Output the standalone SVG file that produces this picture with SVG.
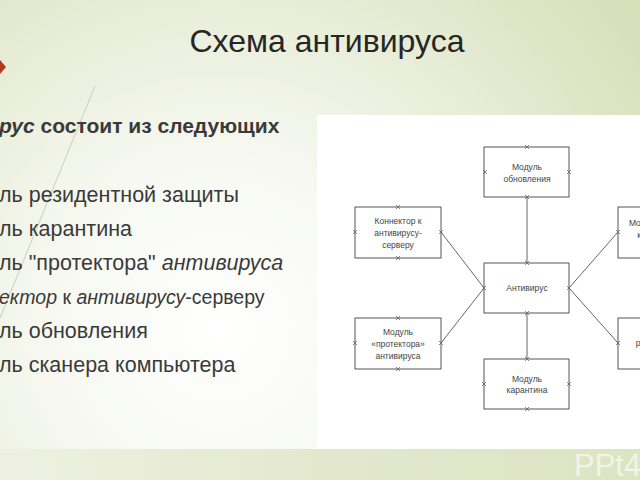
<svg xmlns="http://www.w3.org/2000/svg" width="640" height="480" viewBox="0 0 640 480">
<defs>
<radialGradient id="bg" cx="220" cy="330" r="520" gradientUnits="userSpaceOnUse">
<stop offset="0" stop-color="#ffffff"/>
<stop offset="0.35" stop-color="#f6f8f0"/>
<stop offset="1" stop-color="#d6dfb8"/>
</radialGradient>
<linearGradient id="band" x1="0" y1="0" x2="1" y2="0">
<stop offset="0" stop-color="#eef1e2"/>
<stop offset="0.5" stop-color="#e3e8cd"/>
<stop offset="1" stop-color="#dde4c3"/>
</linearGradient>
<style>
.title{font-family:"Liberation Sans",Arial,sans-serif;font-size:32px;fill:#262626}
.t{font-family:"Liberation Sans",Arial,sans-serif;font-size:21.5px;fill:#3a3a3a}
.b{font-weight:bold;font-size:21px}
.i{font-style:italic}
.box{fill:#ffffff;stroke:#555555;stroke-width:1}
.lbl{font-family:"Liberation Sans",Arial,sans-serif;font-size:8.5px;fill:#444444;text-anchor:middle}
.con{stroke:#666666;stroke-width:1;fill:none}
.xm{stroke:#666666;stroke-width:0.8;fill:none}
</style>
</defs>
<rect x="0" y="0" width="640" height="480" fill="url(#bg)"/>
<rect x="0" y="449" width="640" height="31" fill="url(#band)"/>
<line x1="95" y1="86" x2="0" y2="318" stroke="#c9cfbf" stroke-width="1"/>
<polygon points="0,60 6,67 0,74 -6,67" fill="#b53a1b"/>
<text class="title" x="327" y="52" text-anchor="middle">Схема антивируса</text>
<g id="text-list">
<text class="t b" x="-1" y="133"><tspan class="i">рус</tspan> состоит из следующих</text>
<text class="t" x="-1" y="202">ль резидентной защиты</text>
<text class="t" x="-1" y="236">ль карантина</text>
<text class="t" x="-1" y="270">ль "протектора" <tspan class="i">антивируса</tspan></text>
<text class="t" x="-1" y="304" style="font-size:19.5px"><tspan class="i">ектор</tspan> к <tspan class="i">антивирусу</tspan>-серверу</text>
<text class="t" x="-1" y="338">ль обновления</text>
<text class="t" x="-1" y="372">ль сканера компьютера</text>
</g>
<rect x="317" y="115" width="330" height="334" fill="#ffffff"/>
<g id="connectors">
<line class="con" x1="527" y1="197" x2="527" y2="263"/>
<line class="con" x1="527" y1="313" x2="527" y2="359"/>
<line class="con" x1="441" y1="232" x2="484" y2="288"/>
<line class="con" x1="441" y1="343" x2="484" y2="288"/>
<line class="con" x1="569" y1="288" x2="618" y2="232"/>
<line class="con" x1="569" y1="288" x2="618" y2="343"/>
</g>
<g id="node-update">
<rect class="box" x="484" y="147" width="85" height="50"/>
<text class="lbl" x="527" y="170">Модуль</text>
<text class="lbl" x="527" y="182">обновления</text>
</g>
<g id="node-connector">
<rect class="box" x="355" y="207" width="86" height="51"/>
<text class="lbl" x="398" y="224">Коннектор к</text>
<text class="lbl" x="398" y="236">антивирусу-</text>
<text class="lbl" x="398" y="248">серверу</text>
</g>
<g id="node-scanner">
<rect class="box" x="618" y="207" width="86" height="51"/>
<text class="lbl" x="661" y="226">Модуль сканера</text>
<text class="lbl" x="661" y="238">компьютера</text>
</g>
<g id="node-antivirus">
<rect class="box" x="484" y="263" width="85" height="50"/>
<text class="lbl" x="527" y="291">Антивирус</text>
</g>
<g id="node-protector">
<rect class="box" x="355" y="318" width="86" height="51"/>
<text class="lbl" x="398" y="335">Модуль</text>
<text class="lbl" x="398" y="347">«протектора»</text>
<text class="lbl" x="398" y="359">антивируса</text>
</g>
<g id="node-resident">
<rect class="box" x="618" y="318" width="86" height="51"/>
<text class="lbl" x="661" y="334">Модуль</text>
<text class="lbl" x="661" y="346">резидентной</text>
<text class="lbl" x="661" y="358">защиты</text>
</g>
<g id="node-quarantine">
<rect class="box" x="484" y="359" width="85" height="50"/>
<text class="lbl" x="527" y="382">Модуль</text>
<text class="lbl" x="527" y="393">карантина</text>
</g>
<g id="marks">
<path class="xm" d="M525,145l4,4m0,-4l-4,4 M483,170l4,4m0,-4l-4,4 M567,170l4,4m0,-4l-4,4 M525,195l4,4m0,-4l-4,4
M396,205l4,4m0,-4l-4,4 M353,230l4,4m0,-4l-4,4 M439,230l4,4m0,-4l-4,4 M396,256l4,4m0,-4l-4,4
M616,230l4,4m0,-4l-4,4 M525,261l4,4m0,-4l-4,4 M482,286l4,4m0,-4l-4,4 M567,286l4,4m0,-4l-4,4 M525,311l4,4m0,-4l-4,4
M396,316l4,4m0,-4l-4,4 M353,341l4,4m0,-4l-4,4 M439,341l4,4m0,-4l-4,4 M396,367l4,4m0,-4l-4,4
M616,341l4,4m0,-4l-4,4 M525,357l4,4m0,-4l-4,4 M482,382l4,4m0,-4l-4,4 M567,382l4,4m0,-4l-4,4 M525,407l4,4m0,-4l-4,4"/>
</g>
<text x="574" y="476" font-family="'Liberation Sans',Arial,sans-serif" font-size="31" fill="#ffffff" fill-opacity="0.6">PPt4</text>
</svg>
